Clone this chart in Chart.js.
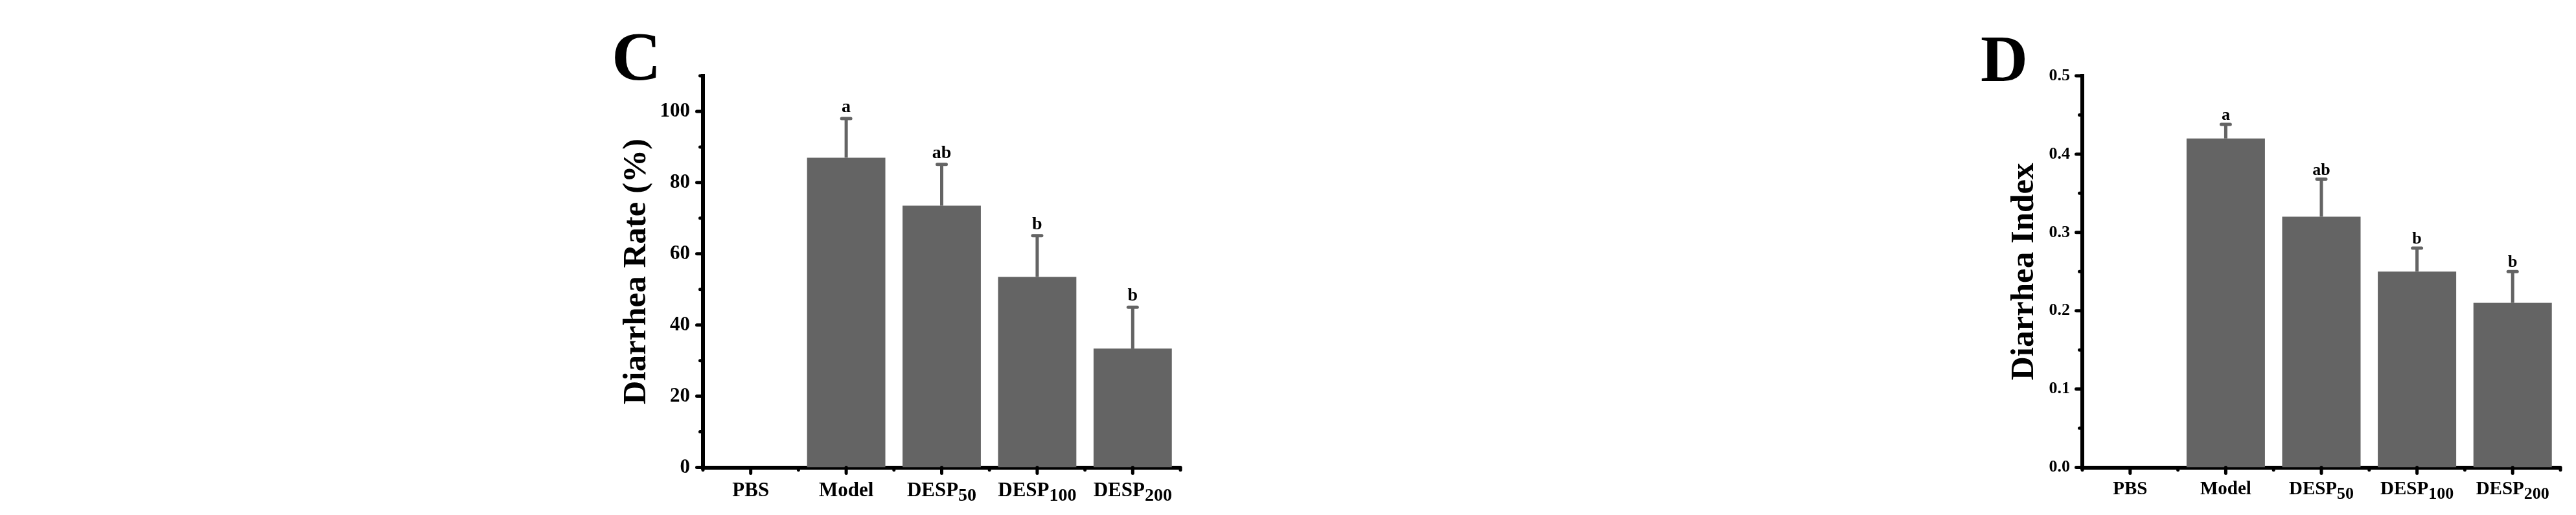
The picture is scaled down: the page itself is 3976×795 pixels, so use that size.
<!DOCTYPE html>
<html>
<head>
<meta charset="utf-8">
<script src="https://cdn.jsdelivr.net/npm/chart.js@4.4.1/dist/chart.umd.min.js"></script>
<style>
  html, body { margin: 0; padding: 0; background: #fff; overflow: hidden; }
  body { width: 3976px; height: 795px; position: relative; }
  canvas { position: absolute; top: 0; }
  #chartC { left: 900px; }
  #chartD { left: 3000px; }
</style>
</head>
<body>
<canvas id="chartC" width="1000" height="795"></canvas>
<canvas id="chartD" width="976" height="795"></canvas>
<script>
// groups on the x axis (name + subscript part)
const groups = ['PBS', 'Model', 'DESP', 'DESP', 'DESP'];
const groupSubs = ['', '', '50', '100', '200'];

// panel C - diarrhea rate (%)
const rateMean = [0, 87.0, 73.5, 53.5, 33.4];
const rateSD = [0, 11.0, 11.6, 11.6, 11.6];
const rateLetters = ['', 'a', 'ab', 'b', 'b'];
const rateTicks = [0, 20, 40, 60, 80, 100];
const rateMinorTicks = [10, 30, 50, 70, 90, 110];

// panel D - diarrhea index
const indexMean = [0, 0.42, 0.32, 0.25, 0.21];
const indexSD = [0, 0.018, 0.048, 0.03, 0.04];
const indexLetters = ['', 'a', 'ab', 'b', 'b'];
const indexTicks = [0, 0.1, 0.2, 0.3, 0.4, 0.5];
const indexMinorTicks = [0.05, 0.15, 0.25, 0.35, 0.45];

const FONT = '"Liberation Serif", "Times New Roman", serif';
const BAR_COLOR = '#646464';

function line(ctx, x1, y1, x2, y2) {
  ctx.beginPath();
  ctx.moveTo(x1, y1);
  ctx.lineTo(x2, y2);
  ctx.stroke();
}

// error bars, letters, tick marks, x labels with subscripts, panel letter
function marksPlugin(p) {
  return {
    id: 'marks',
    afterDraw(chart) {
      const { ctx, chartArea } = chart;
      const xs = chart.scales.x;
      const ys = chart.scales.y;
      ctx.save();

      // error bars (upper only)
      ctx.strokeStyle = BAR_COLOR;
      ctx.lineWidth = 5;
      p.mean.forEach((m, i) => {
        if (!p.sd[i]) return;
        const cx = xs.getPixelForValue(i);
        const top = ys.getPixelForValue(m + p.sd[i]);
        ctx.lineCap = 'butt';
        line(ctx, cx, ys.getPixelForValue(m), cx, top);
        ctx.lineCap = 'round';
        line(ctx, cx - 7, top, cx + 7, top);
      });

      // significance letters
      ctx.fillStyle = '#000';
      ctx.textAlign = 'center';
      ctx.textBaseline = 'alphabetic';
      ctx.font = 'bold ' + p.letterSize + 'px ' + FONT;
      p.letters.forEach((t, i) => {
        if (!t) return;
        const top = ys.getPixelForValue(p.mean[i] + p.sd[i]);
        ctx.fillText(t, xs.getPixelForValue(i), top - p.letterGap);
      });

      // tick marks
      ctx.strokeStyle = '#000';
      ctx.lineCap = 'round';
      ctx.lineWidth = 5;
      p.ticks.forEach(v => {
        const py = ys.getPixelForValue(v);
        line(ctx, chartArea.left, py, chartArea.left - 9.5, py);
      });
      p.minor.forEach(v => {
        const py = ys.getPixelForValue(v);
        line(ctx, chartArea.left, py, chartArea.left - 4.5, py);
      });
      groups.forEach((g, i) => {
        const px = xs.getPixelForValue(i);
        line(ctx, px, chartArea.bottom, px, chartArea.bottom + 9);
      });
      for (let i = 0; i <= groups.length; i++) {
        const px = xs.getPixelForValue(i - 0.5);
        line(ctx, px, chartArea.bottom, px, chartArea.bottom + 4);
      }

      // x labels
      ctx.textAlign = 'left';
      groups.forEach((g, i) => {
        const cx = xs.getPixelForValue(i);
        ctx.font = 'bold ' + p.labelSize + 'px ' + FONT;
        const w1 = ctx.measureText(g).width;
        ctx.font = 'bold ' + p.subSize + 'px ' + FONT;
        const w2 = groupSubs[i] ? ctx.measureText(groupSubs[i]).width : 0;
        const x0 = cx - (w1 + w2) / 2;
        ctx.font = 'bold ' + p.labelSize + 'px ' + FONT;
        ctx.fillText(g, x0, p.labelBase);
        if (groupSubs[i]) {
          ctx.font = 'bold ' + p.subSize + 'px ' + FONT;
          ctx.fillText(groupSubs[i], x0 + w1, p.subBase);
        }
      });

      // panel letter
      ctx.font = 'bold ' + p.panelSize + 'px ' + FONT;
      ctx.fillText(p.panel, p.panelX, p.panelY);
      ctx.restore();
    }
  };
}

function makeChart(id, p) {
  const ctx = document.getElementById(id);
  return new Chart(ctx, {
    type: 'bar',
    data: {
      labels: groups.map((g, i) => g + groupSubs[i]),
      datasets: [{
        data: p.mean,
        backgroundColor: BAR_COLOR,
        borderWidth: 0,
        categoryPercentage: 0.82,
        barPercentage: 1
      }]
    },
    options: {
      responsive: false,
      animation: false,
      devicePixelRatio: 1,
      layout: { padding: { left: 0, top: 117, right: p.padRight, bottom: 0 } },
      plugins: { legend: { display: false }, tooltip: { enabled: false } },
      scales: {
        x: {
          z: 1,
          grid: { display: false, drawTicks: false },
          ticks: { display: false },
          border: { display: true, color: '#000', width: 6 },
          afterFit: s => { s.height = 795 - 721.5; }
        },
        y: {
          z: 1,
          min: 0,
          max: p.max,
          afterBuildTicks: s => { s.ticks = p.ticks.map(v => ({ value: v })); },
          grid: { display: false, drawTicks: false },
          border: { display: true, color: '#000', width: 6 },
          ticks: {
            color: '#000',
            padding: p.tickPad,
            font: { family: FONT, size: p.tickSize, weight: 'bold' },
            callback: p.tickFormat
          },
          title: {
            display: true,
            text: p.title,
            color: '#000',
            font: { family: FONT, size: 51, weight: 'bold' },
            padding: { top: p.titlePad, bottom: 0 }
          },
          afterFit: s => { s.width = p.axisLeft; }
        }
      }
    },
    plugins: [marksPlugin(p)]
  });
}

makeChart('chartC', {
  mean: rateMean, sd: rateSD, letters: rateLetters,
  ticks: rateTicks, minor: rateMinorTicks, max: 110,
  tickFormat: v => String(v),
  title: 'Diarrhea Rate (%)',
  axisLeft: 185, padRight: 78, titlePad: 52, tickPad: 20, tickSize: 31,
  letterSize: 28, letterGap: 10,
  labelSize: 31, subSize: 28, labelBase: 765.5, subBase: 773,
  panel: 'C', panelSize: 106, panelX: 44, panelY: 123
});

makeChart('chartD', {
  mean: indexMean, sd: indexSD, letters: indexLetters,
  ticks: indexTicks, minor: indexMinorTicks, max: 0.5,
  tickFormat: v => Number(v).toFixed(1),
  title: 'Diarrhea Index',
  axisLeft: 214, padRight: 24, titlePad: 94, tickPad: 19, tickSize: 26,
  letterSize: 26, letterGap: 7,
  labelSize: 29, subSize: 26, labelBase: 763, subBase: 770,
  panel: 'D', panelSize: 101, panelX: 57, panelY: 125
});
</script>
</body>
</html>
